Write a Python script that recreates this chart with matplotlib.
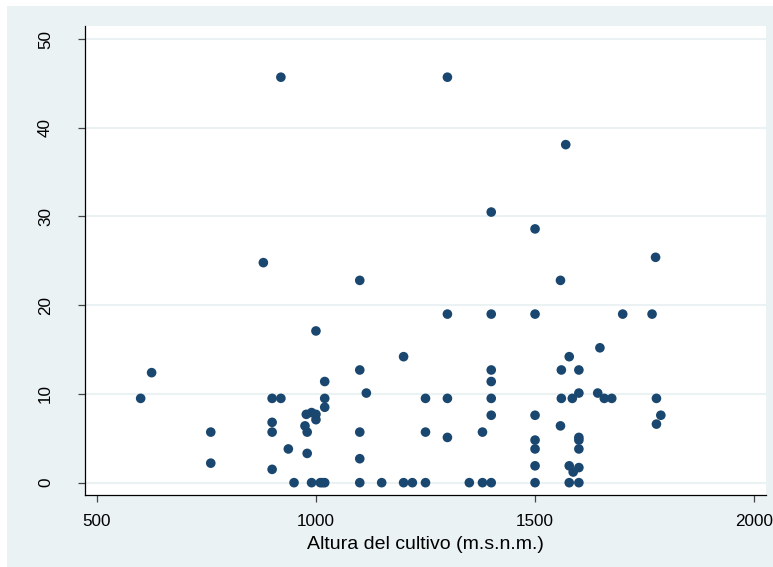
import matplotlib
matplotlib.use("Agg")
import matplotlib.pyplot as plt
from matplotlib.patches import Rectangle

# altura del cultivo (m.s.n.m.) and the y variable
altura = [
    600, 625, 760, 760, 880, 900, 900, 900, 900, 920, 920, 937, 950,
    975, 978, 980, 980, 990, 990, 1000, 1000, 1000, 1010, 1015,
    1020, 1020, 1020, 1020, 1100, 1100, 1100, 1100, 1100, 1115, 1150,
    1200, 1200, 1220, 1250, 1250, 1250, 1300, 1300, 1300, 1300, 1350,
    1380, 1380, 1400, 1400, 1400, 1400, 1400, 1400, 1400, 1500, 1500,
    1500, 1500, 1500, 1500, 1500, 1558, 1560, 1560, 1558, 1570, 1578,
    1578, 1578, 1585, 1587, 1600, 1600, 1600, 1600, 1600, 1600, 1600,
    1643, 1648, 1658, 1675, 1700, 1767, 1775, 1777, 1777, 1787,
]
valor = [
    9.5, 12.4, 5.7, 2.2, 24.8, 9.5, 6.8, 5.7, 1.5, 45.7, 9.5, 3.8, 0,
    6.4, 7.7, 5.7, 3.3, 7.9, 0, 17.1, 7.7, 7.1, 0, 0,
    11.4, 9.5, 8.5, 0, 22.8, 12.7, 5.7, 2.7, 0, 10.1, 0,
    14.2, 0, 0, 9.5, 5.7, 0, 45.7, 19.0, 9.5, 5.1, 0,
    5.7, 0, 30.5, 19.0, 12.7, 11.4, 9.5, 7.6, 0, 28.6, 19.0,
    7.6, 4.8, 3.8, 1.9, 0, 22.8, 12.7, 9.5, 6.4, 38.1, 14.2,
    1.9, 0, 9.5, 1.2, 12.7, 10.1, 5.1, 4.8, 3.8, 1.7, 0,
    10.1, 15.2, 9.5, 9.5, 19.0, 19.0, 25.4, 9.5, 6.6, 7.6,
]
xticks = [500, 1000, 1500, 2000]
yticks = [0, 10, 20, 30, 40, 50]

plt.rcParams['font.family'] = ['Liberation Sans', 'DejaVu Sans']

fig = plt.figure(figsize=(7.73, 5.67), dpi=100, facecolor='white')
# stata-like light background panel
fig.patches.append(Rectangle((7 / 773, 0), 1, 1 - 6 / 567, transform=fig.transFigure,
                             facecolor='#eaf2f3', edgecolor='none', zorder=-10))

ax = fig.add_axes([85 / 773, 1 - 495 / 567, (766 - 85) / 773, (495 - 26) / 567])
ax.set_facecolor('white')

ax.scatter(altura, valor, s=48, color='#1a476f', edgecolors='none', zorder=3)

ax.set_xlim(473, 2027)
ax.set_ylim(-1.39, 51.47)
ax.set_xticks(xticks)
ax.set_yticks(yticks)
ax.set_yticklabels([str(t) for t in yticks], rotation=90, va='center')
ax.grid(axis='y', color='#eaf2f3', linewidth=1.5, zorder=0)
ax.set_axisbelow(True)

for side in ['top', 'right']:
    ax.spines[side].set_visible(False)
for side in ['left', 'bottom']:
    ax.spines[side].set_color('black')
    ax.spines[side].set_linewidth(0.9)

ax.tick_params(axis='both', direction='out', length=5, width=0.9, color='#444444',
               labelsize=12.3, labelcolor='black')
ax.tick_params(axis='x', pad=8.5)
ax.tick_params(axis='y', pad=18)

ax.set_xlabel('Altura del cultivo (m.s.n.m.)', fontsize=14, labelpad=5)

fig.savefig('out.png', dpi=100, facecolor=fig.get_facecolor())
